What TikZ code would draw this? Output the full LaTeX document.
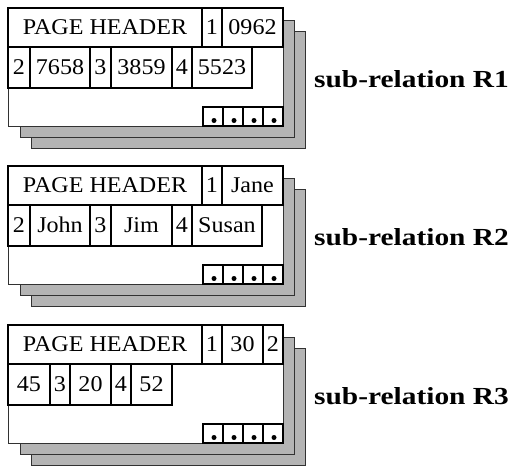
\documentclass[tikz,border=0pt]{standalone}
\usepackage{fontspec}
\setmainfont[FakeStretch=1.07]{Liberation Serif}
\newfontfamily\labelfont[FakeStretch=1.2]{Liberation Serif}
\usepackage{tikz}
\usetikzlibrary{positioning}
\definecolor{pagegray}{RGB}{180, 180, 180}
\definecolor{edgegray}{RGB}{50, 50, 50}

\begin{document}
\begin{tikzpicture}[x=1pt, y=-1pt,
        page/.style={draw=edgegray, line width=1pt},
        cell/.style={draw, line width=2pt, outer sep=0pt, inner sep=0pt,
            minimum height=#1, text height=15pt, text depth=0pt,
            font=\fontsize{22.5}{26}\selectfont},
        cell/.default=38.5pt,
        slot/.style={draw, line width=2pt, outer sep=0pt, inner sep=0pt,
            minimum width=20pt, minimum height=19pt, anchor=south west},
        sublabel/.style={anchor=base west, inner sep=0pt,
            font=\fontsize{24.5}{28}\labelfont\bfseries}]
    \useasboundingbox (0,0) rectangle (514,466);

    % stacked pages and slot directory of each sub-relation
    \foreach \T [count=\b] in {8,166,325} {
        \draw[page, fill=pagegray] (31,\T+23) rectangle (305,\T+140);
        \draw[page, fill=pagegray] (20,\T+12) rectangle (294,\T+129);
        \draw[page, fill=white] (8,\T) rectangle (283,\T+118);
        \foreach \k in {0,...,3} {
            \node[slot] (s\b\k) at (203+20*\k,\T+118) {};
            \fill ([xshift=1pt, yshift=5.5pt]s\b\k.south) circle (2.5pt);
        }
    }

    % R1
    \node[cell, minimum width=194pt, anchor=north west] (hd1) at (8,8) {PAGE HEADER};
    \node[cell, minimum width=20pt, right=0pt of hd1] (n1a) {1};
    \node[cell, minimum width=61pt, right=0pt of n1a] (v1a) {0962};
    \node[cell=41.5pt, minimum width=22pt, anchor=north west] (n1b) at (8,46.5) {2};
    \node[cell=41.5pt, minimum width=60pt, right=0pt of n1b] (v1b) {7658};
    \node[cell=41.5pt, minimum width=21pt, right=0pt of v1b] (n1c) {3};
    \node[cell=41.5pt, minimum width=61pt, right=0pt of n1c] (v1c) {3859};
    \node[cell=41.5pt, minimum width=20pt, right=0pt of v1c] (n1d) {4};
    \node[cell=41.5pt, minimum width=60pt, right=0pt of n1d] (v1d) {5523};
    \node[sublabel] (lab1) at (314,87) {sub-relation R1};

    % R2
    \node[cell, minimum width=194pt, anchor=north west] (hd2) at (8,166) {PAGE HEADER};
    \node[cell, minimum width=20pt, right=0pt of hd2] (n2a) {1};
    \node[cell, minimum width=61pt, right=0pt of n2a] (v2a) {Jane};
    \node[cell=41.5pt, minimum width=22pt, anchor=north west] (n2b) at (8,204.5) {2};
    \node[cell=41.5pt, minimum width=60pt, right=0pt of n2b] (v2b) {John};
    \node[cell=41.5pt, minimum width=21pt, right=0pt of v2b] (n2c) {3};
    \node[cell=41.5pt, minimum width=61pt, right=0pt of n2c] (v2c) {Jim};
    \node[cell=41.5pt, minimum width=20pt, right=0pt of v2c] (n2d) {4};
    \node[cell=41.5pt, minimum width=70pt, right=0pt of n2d] (v2d) {Susan};
    \node[sublabel] (lab2) at (314,245) {sub-relation R2};

    % R3
    \node[cell, minimum width=194pt, anchor=north west] (hd3) at (8,325) {PAGE HEADER};
    \node[cell, minimum width=20pt, right=0pt of hd3] (n3a) {1};
    \node[cell, minimum width=41pt, right=0pt of n3a] (v3a) {30};
    \node[cell, minimum width=20pt, right=0pt of v3a] (n3b) {2};
    \node[cell=41.5pt, minimum width=42pt, anchor=north west] (v3b) at (8,363.5) {45};
    \node[cell=41.5pt, minimum width=20pt, right=0pt of v3b] (n3c) {3};
    \node[cell=41.5pt, minimum width=41pt, right=0pt of n3c] (v3c) {20};
    \node[cell=41.5pt, minimum width=20pt, right=0pt of v3c] (n3d) {4};
    \node[cell=41.5pt, minimum width=41pt, right=0pt of n3d] (v3d) {52};
    \node[sublabel] (lab3) at (314,404) {sub-relation R3};
\end{tikzpicture}
\end{document}
